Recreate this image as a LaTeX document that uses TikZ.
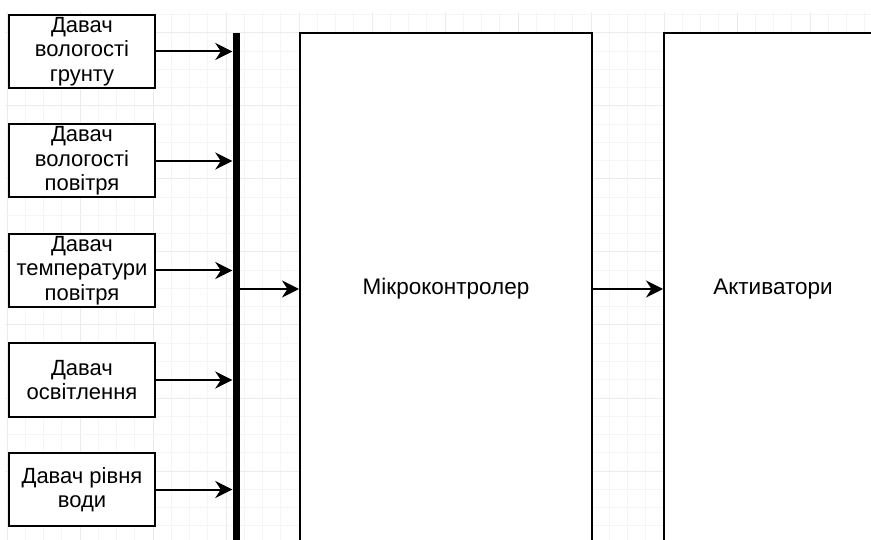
\documentclass[tikz,border=0pt]{standalone}
\usepackage{fontspec}
\setmainfont{Liberation Sans}
\usetikzlibrary{arrows.meta,calc}

\tikzset{
  sensor/.style={draw=black, fill=white, line width=2pt, minimum width=146pt,
    minimum height=73pt, inner sep=0pt, align=center,
    font=\fontsize{22}{24.5}\selectfont},
  block/.style={draw=black, fill=white, line width=2pt, inner sep=0pt,
    font=\fontsize{22.5}{24.5}\selectfont},
  link/.style={line width=2pt, -{Stealth[length=17pt, width=17pt, inset=5.5pt]}},
  minorgrid/.style={draw=black!4, line width=1pt},
  majorgrid/.style={draw=black!8, line width=1pt},
}

\begin{document}
\begin{tikzpicture}[x=1pt, y=-1pt]
  \clip (0,0) rectangle (871,540);
  \fill[white] (0,0) rectangle (871,540);

  % background grid: minor step 18.25, every fourth line major
  \begin{scope}
    \clip (5,12) rectangle (871,540);
    \foreach \i in {0,...,47} {
      \pgfmathsetmacro{\gx}{7+18.25*\i}
      \pgfmathparse{mod(\i,4)==0 ? 1 : 0}
      \ifnum\pgfmathresult=1
        \draw[majorgrid] (\gx,12) -- (\gx,540);
      \else
        \draw[minorgrid] (\gx,12) -- (\gx,540);
      \fi
    }
    \foreach \j in {0,...,28} {
      \pgfmathsetmacro{\gy}{14.75+18.25*\j}
      \pgfmathparse{mod(\j,4)==1 ? 1 : 0}
      \ifnum\pgfmathresult=1
        \draw[majorgrid] (5,\gy) -- (871,\gy);
      \else
        \draw[minorgrid] (5,\gy) -- (871,\gy);
      \fi
    }
  \end{scope}

  % sensors
  \node[sensor] (s1) at (82,51.5)  {Давач\\вологості\\грунту};
  \node[sensor] (s2) at (82,161)   {Давач\\вологості\\повітря};
  \node[sensor] (s3) at (82,270.5) {Давач\\температури\\повітря};
  \node[sensor] (s4) at (82,380)   {Давач\\освітлення};
  \node[sensor] (s5) at (82,489.5) {Давач рівня\\води};

  % common bus
  \node[fill=black, inner sep=0pt, minimum width=7pt, minimum height=520pt,
        anchor=north] (bus) at (236,33) {};

  % controller and actuators
  \node[block, minimum width=292pt, minimum height=512pt] (mcu) at (446,289) {Мікроконтролер};
  \node[block, minimum width=218pt, minimum height=512pt] (act) at (773,289) {Активатори};

  % connectors
  \foreach \s in {s1,s2,s3,s4,s5}
    \draw[link] (\s.east) -- (\s.east -| bus.west);
  \draw[link] (mcu.west -| bus.east) -- (mcu.west);
  \draw[link] (mcu.east) -- (act.west);
\end{tikzpicture}
\end{document}
